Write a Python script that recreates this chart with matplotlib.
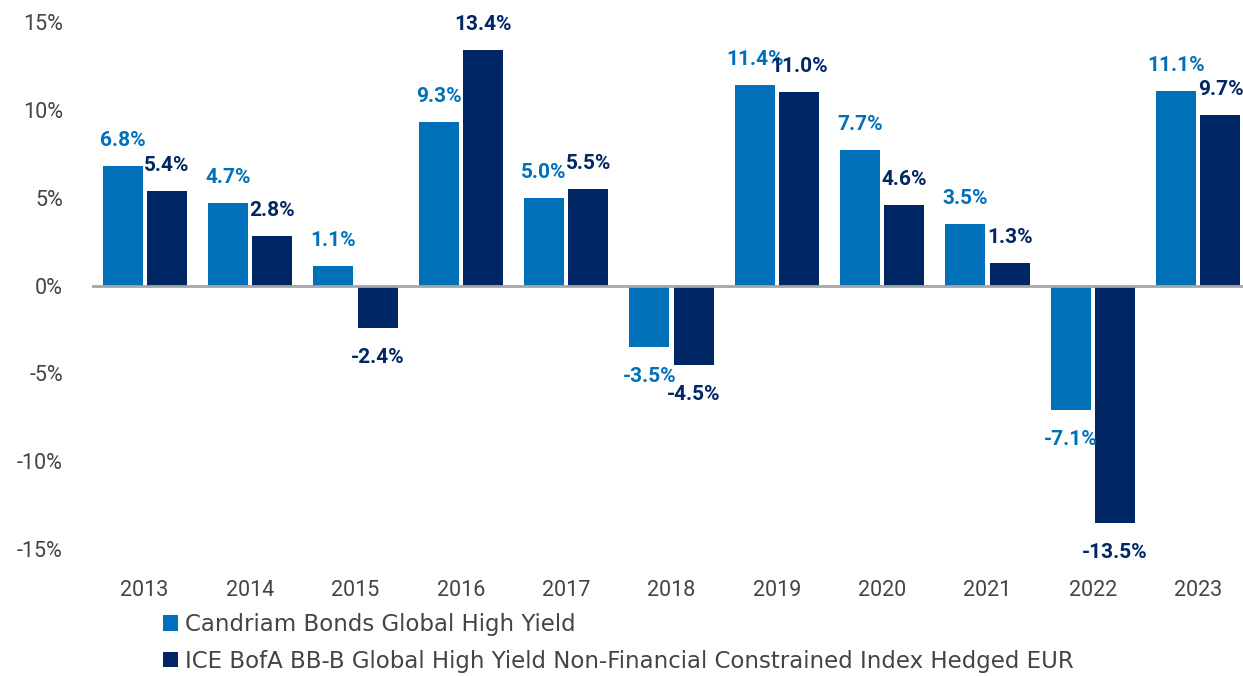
import numpy as np
import matplotlib.pyplot as plt
from matplotlib.ticker import FuncFormatter

years = ["2013", "2014", "2015", "2016", "2017", "2018", "2019", "2020", "2021", "2022", "2023"]
candriam = [6.8, 4.7, 1.1, 9.3, 5.0, -3.5, 11.4, 7.7, 3.5, -7.1, 11.1]
ice_index = [5.4, 2.8, -2.4, 13.4, 5.5, -4.5, 11.0, 4.6, 1.3, -13.5, 9.7]
series_names = ["Candriam Bonds Global High Yield",
                "ICE BofA BB-B Global High Yield Non-Financial Constrained Index Hedged EUR"]
y_ticks = [-15, -10, -5, 0, 5, 10, 15]

LIGHT = "#0070B9"
DARK = "#002663"
GREY_TXT = "#444444"

plt.rcParams['font.family'] = ['Roboto', 'DejaVu Sans']

W, H = 1243, 676
fig = plt.figure(figsize=(W / 100, H / 100), dpi=100)
# axes runs a little past the right edge, like the original crop
left, right = 92 / W, 1251 / W
bottom, top = 1 - 549 / H, 1 - 22 / H
ax = fig.add_axes([left, bottom, right - left, top - bottom])

x = np.arange(len(years))
bw = 0.38
off = 0.21
b1 = ax.bar(x - off, candriam, bw, color=LIGHT, label=series_names[0])
b2 = ax.bar(x + off, ice_index, bw, color=DARK, label=series_names[1])

ax.axhline(0, color="#A6A6A6", linewidth=2, zorder=3)

# value labels above / below each bar
for bars, vals, col in [(b1, candriam, LIGHT), (b2, ice_index, DARK)]:
    for rect, v in zip(bars, vals):
        cx = rect.get_x() + rect.get_width() / 2
        ax.annotate(f"{v:.1f}%", (cx, v), xytext=(0, 20 if v >= 0 else -20),
                    textcoords="offset pixels", ha="center",
                    va="baseline" if v >= 0 else "top",
                    fontsize=15, fontweight="bold", color=col, clip_on=False)

ax.set_xlim(-0.5, len(years) - 0.5)
ax.set_ylim(-15, 15)
ax.set_yticks(y_ticks)
ax.yaxis.set_major_formatter(FuncFormatter(lambda v, p: f"{int(v)}%"))
ax.set_xticks(x)
ax.set_xticklabels(years)
ax.tick_params(axis="both", length=0, labelsize=15.5, labelcolor=GREY_TXT)
ax.tick_params(axis="y", pad=21)
ax.tick_params(axis="x", pad=22)
for s in ax.spines.values():
    s.set_visible(False)

fig.legend(handles=[b1, b2], loc="upper left",
           bbox_to_anchor=(163 / W, 1 - 613 / H), frameon=False,
           prop={'family': 'DejaVu Sans', 'size': 16.5}, labelcolor=GREY_TXT,
           handlelength=0.66, handleheight=0.66,
           handletextpad=0.3, labelspacing=0.6, borderpad=0, borderaxespad=0)

fig.savefig("out.png", dpi=100)
